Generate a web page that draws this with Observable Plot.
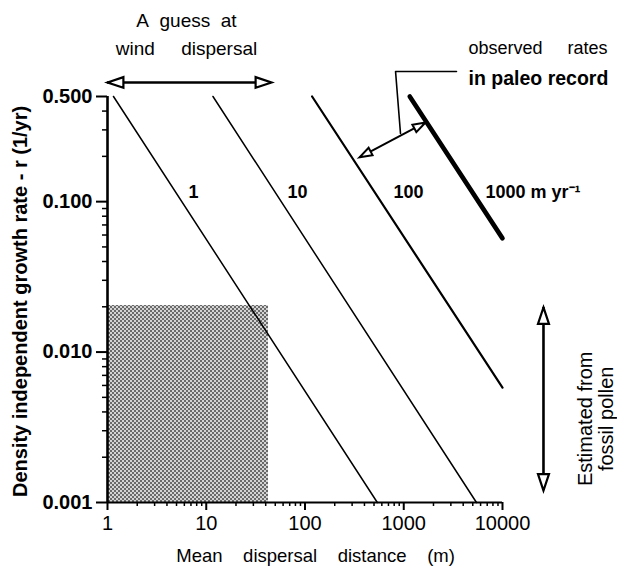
<!DOCTYPE html>
<html>
<head>
<meta charset="utf-8">
<script src="https://cdn.jsdelivr.net/npm/d3@7"></script>
<script src="https://cdn.jsdelivr.net/npm/@observablehq/plot@0.6"></script>
<style>
  html, body { margin: 0; padding: 0; background: #fff; }
  #chart svg { display: block; }
</style>
</head>
<body>
<div id="chart"></div>
<script>
// ---------- data ----------
const xTicks = [1, 10, 100, 1000, 10000];
const xTickLabels = ["1", "10", "100", "1000", "10000"];
const xMinorTicks = [2,3,4,5,6,7,8,9, 20,30,40,50,60,70,80,90, 200,300,400,500,600,700,800,900, 2000,3000,4000,5000,6000,7000,8000,9000];
const yTicks = [0.5, 0.1, 0.01, 0.001];
const yTickLabels = ["0.500", "0.100", "0.010", "0.001"];
const yMinorTicks = [0.2,0.3,0.4, 0.02,0.03,0.04,0.05,0.06,0.07,0.08,0.09, 0.002,0.003,0.004,0.005,0.006,0.007,0.008,0.009];

// iso-velocity lines (m/yr): endpoints
const velocities = ["1", "10", "100", "1000"];
const velocityLabels = ["1", "10", "100", "1000 m yr\u207B\u00B9"];
const startDistance = [1.15, 11.7, 118, 1150];
const startRate = [0.5, 0.5, 0.5, 0.5];
const endDistance = [540, 5450, 10000, 10000];
const endRate = [0.001, 0.001, 0.0058, 0.057];
const labelDistance = [6.6, 66.5, 788, 6730];
const labelRate = [0.115, 0.115, 0.115, 0.115];

// "A guess at wind dispersal" range and shaded region
const windDistance = [1, 45.8];
const windRate = 0.62;
const shadedDistance = [1, 42.7];
const shadedRate = [0.001, 0.0204];

// "Estimated from fossil pollen" range
const pollenDistance = 26000;
const pollenRate = [0.0012, 0.0198];

// "observed rates in paleo record" leader and arrow
const leaderDistance = [3420, 826, 927];
const leaderRate = [0.733, 0.733, 0.284];
const paleoArrowDistance = [356, 1660];
const paleoArrowRate = [0.197, 0.336];

// ---------- styles ----------
const lineWidth = {"1": 1.5, "10": 1.5, "100": 2.2, "1000": 4.6};
const FONT = "'Liberation Sans', Arial, Helvetica, sans-serif";
const sp = n => "\u00A0".repeat(n);
const paleoAngle = 62;

const rows = velocities.flatMap((v, i) => [
  {v, x: startDistance[i], r: startRate[i]},
  {v, x: endDistance[i], r: endRate[i]}
]);
const labels = velocities.map((v, i) => ({v, text: velocityLabels[i], x: labelDistance[i], r: labelRate[i]}));

// open triangular arrow head, tip at the anchor point, pointing up before rotation
const arrowHead = {
  draw(ctx, size) {
    const r = Math.sqrt(size / Math.PI);
    ctx.moveTo(0, 0);
    ctx.lineTo(r, 3 * r);
    ctx.lineTo(-r, 3 * r);
    ctx.closePath();
  }
};

const windHeads = [
  {x: windDistance[0], r: windRate, a: -90},
  {x: windDistance[1], r: windRate, a: 90}
];
const pollenHeads = [
  {x: pollenDistance, r: pollenRate[1], a: 0},
  {x: pollenDistance, r: pollenRate[0], a: 180}
];
const paleoHeads = [
  {x: paleoArrowDistance[0], r: paleoArrowRate[0], a: paleoAngle + 180},
  {x: paleoArrowDistance[1], r: paleoArrowRate[1], a: paleoAngle}
];

const noLabel = () => "";

const chart = Plot.plot({
  width: 617,
  height: 571,
  marginLeft: 107,
  marginRight: 115,
  marginTop: 96,
  marginBottom: 69,
  style: {background: "#fff", color: "#000", fontFamily: FONT, overflow: "visible"},
  x: {type: "log", domain: [1, 10000], axis: null},
  y: {type: "log", domain: [0.001, 0.5], axis: null},
  marks: [
    // shaded region
    Plot.rect([{x1: shadedDistance[0], x2: shadedDistance[1], y1: shadedRate[0], y2: shadedRate[1]}],
      {x1: "x1", x2: "x2", y1: "y1", y2: "y2", fill: "url(#halftone)"}),

    // iso-velocity lines
    ...velocities.map(v => Plot.line(rows.filter(d => d.v === v),
      {x: "x", y: "r", stroke: "#000", strokeWidth: lineWidth[v], strokeLinecap: "round"})),

    // line labels
    Plot.text(labels, {x: "x", y: "r", text: "text", textAnchor: "start", fontSize: 18,
      fontWeight: "bold", fill: "#000"}),

    // minor ticks
    Plot.axisY(yMinorTicks, {anchor: "left", tickSize: 5, tickFormat: noLabel, strokeWidth: 1.5, label: null}),
    Plot.axisX(xMinorTicks, {anchor: "bottom", tickSize: 4, tickFormat: noLabel, strokeWidth: 1.5, label: null}),
    // major ticks
    Plot.axisY(yTicks, {anchor: "left", tickSize: 11, tickPadding: 4, strokeWidth: 2,
      tickFormat: d => yTickLabels[yTicks.indexOf(d)], fontSize: 20, fontWeight: "bold", label: null}),
    Plot.axisX(xTicks, {anchor: "bottom", tickSize: 8, tickPadding: 5, strokeWidth: 2,
      tickFormat: d => xTickLabels[xTicks.indexOf(d)], fontSize: 20, label: null}),
    // axis lines
    Plot.ruleX([1], {y1: 0.001, y2: 0.5, strokeWidth: 2.6}),
    Plot.ruleY([0.001], {x1: 1, x2: 10000, strokeWidth: 2.2}),

    // axis titles
    Plot.text(["Density independent growth rate - r (1/yr)"], {x: 0.1315, y: 0.0217, rotate: -90,
      fontSize: 20, fontWeight: "bold", fill: "#000"}),
    Plot.text([`Mean${sp(4)}dispersal${sp(4)}distance${sp(4)}(m)`], {x: 128, y: 0.00044,
      fontSize: 18.5, fill: "#000"}),

    // wind dispersal arrow
    Plot.text(["A" + sp(2) + "guess" + sp(2) + "at"], {x: 6.3, y: 1.6, fontSize: 19, fill: "#000"}),
    Plot.text(["wind" + sp(5) + "dispersal"], {x: 6.3, y: 1.04, fontSize: 19, fill: "#000"}),
    Plot.ruleY([windRate], {x1: windDistance[0], x2: windDistance[1], strokeWidth: 2.6}),
    Plot.dot(windHeads, {x: "x", y: "r", rotate: "a", symbol: arrowHead, r: 5.3,
      fill: "#fff", stroke: "#000", strokeWidth: 2.2}),

    // observed rates in paleo record
    Plot.text(["observed" + sp(5) + "rates"], {x: 4530, y: 1.04, textAnchor: "start", fontSize: 18, fill: "#000"}),
    Plot.text(["in paleo record"], {x: 4530, y: 0.659, textAnchor: "start", fontSize: 19.5, fontWeight: "bold", fill: "#000"}),
    Plot.line(leaderDistance.map((x, i) => ({x, r: leaderRate[i]})), {x: "x", y: "r", strokeWidth: 1.6}),
    Plot.link([{x1: paleoArrowDistance[0], y1: paleoArrowRate[0], x2: paleoArrowDistance[1], y2: paleoArrowRate[1]}],
      {x1: "x1", y1: "y1", x2: "x2", y2: "y2", strokeWidth: 2}),
    Plot.dot(paleoHeads, {x: "x", y: "r", rotate: "a", symbol: arrowHead, r: 4.2,
      fill: "#fff", stroke: "#000", strokeWidth: 2}),

    // estimated from fossil pollen
    Plot.ruleX([pollenDistance], {y1: pollenRate[0], y2: pollenRate[1], strokeWidth: 2.6}),
    Plot.dot(pollenHeads, {x: "x", y: "r", rotate: "a", symbol: arrowHead, r: 5.5,
      fill: "#fff", stroke: "#000", strokeWidth: 2.2}),
    Plot.text(["Estimated from"], {x: 69400, y: 0.0036, rotate: -90, fontSize: 20, fill: "#000"}),
    Plot.text(["fossil pollen"], {x: 113000, y: 0.0036, rotate: -90, fontSize: 20, fill: "#000"})
  ]
});

// halftone pattern for the shaded region
const defs = d3.select(chart).insert("defs", ":first-child");
const pat = defs.append("pattern").attr("id", "halftone").attr("patternUnits", "userSpaceOnUse")
  .attr("width", 4).attr("height", 4);
pat.append("rect").attr("width", 4).attr("height", 4).attr("fill", "#d4d4d4");
pat.append("rect").attr("x", 0).attr("y", 0).attr("width", 2).attr("height", 2).attr("fill", "#6a6a6a");
pat.append("rect").attr("x", 2).attr("y", 2).attr("width", 2).attr("height", 2).attr("fill", "#6a6a6a");

document.getElementById("chart").appendChild(chart);
</script>
</body>
</html>
